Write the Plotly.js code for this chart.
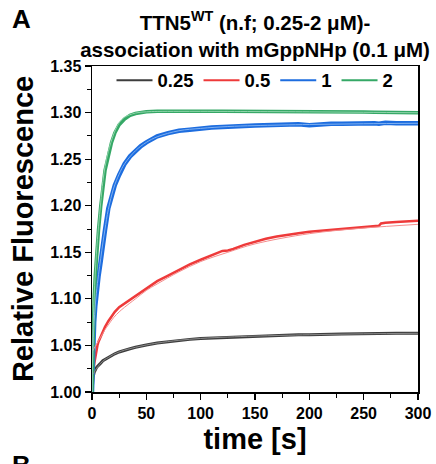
<!DOCTYPE html>
<html>
<head>
<meta charset="utf-8">
<script src="https://cdn.plot.ly/plotly-3.0.1.min.js"></script>
<style>html,body{margin:0;padding:0;background:#fff;}#chart{width:436px;height:464px;}</style>
</head>
<body>
<div id="chart"></div>
<script>
// time points (s) for measured traces
const time = [0, 0.5, 1, 2, 3, 4, 5, 6, 8, 10, 12, 15, 18, 21, 25, 30, 35, 40, 45, 50, 60, 70, 80, 90, 100, 110, 120, 125, 130, 140, 150, 160, 170, 180, 190, 200, 210, 220, 230, 240, 250, 260, 264, 266, 270, 280, 290, 300];

const c025 = [1.000, 1.010, 1.016, 1.021, 1.024, 1.026, 1.0275, 1.029, 1.031, 1.0335, 1.035, 1.037, 1.039, 1.041, 1.043, 1.045, 1.0465, 1.048, 1.0495, 1.0505, 1.0525, 1.054, 1.0555, 1.0565, 1.0575, 1.058, 1.0585, 1.059, 1.059, 1.0595, 1.060, 1.0605, 1.061, 1.061, 1.0615, 1.0615, 1.062, 1.062, 1.0622, 1.0625, 1.0625, 1.0627, 1.0627, 1.0628, 1.0628, 1.063, 1.063, 1.063];

const c05 = [1.000, 1.012, 1.020, 1.030, 1.038, 1.045, 1.050, 1.054, 1.060, 1.065, 1.070, 1.076, 1.081, 1.086, 1.091, 1.095, 1.099, 1.103, 1.107, 1.111, 1.119, 1.125, 1.131, 1.137, 1.142, 1.147, 1.1515, 1.152, 1.1535, 1.158, 1.1615, 1.1645, 1.167, 1.169, 1.1705, 1.172, 1.173, 1.1745, 1.1755, 1.1765, 1.1775, 1.1782, 1.1785, 1.181, 1.1818, 1.1825, 1.183, 1.1838];

const c1 = [1.000, 1.030, 1.056, 1.075, 1.092, 1.105, 1.115, 1.124, 1.140, 1.160, 1.174, 1.197, 1.212, 1.222, 1.233, 1.245, 1.253, 1.259, 1.264, 1.268, 1.2745, 1.278, 1.2805, 1.2815, 1.283, 1.284, 1.2845, 1.285, 1.285, 1.2855, 1.286, 1.2865, 1.287, 1.287, 1.2875, 1.2865, 1.2875, 1.288, 1.288, 1.2885, 1.2885, 1.2885, 1.288, 1.2885, 1.289, 1.2885, 1.289, 1.2885];

const c2 = [1.000, 1.030, 1.066, 1.100, 1.125, 1.145, 1.162, 1.174, 1.199, 1.222, 1.238, 1.253, 1.268, 1.278, 1.287, 1.293, 1.297, 1.299, 1.300, 1.3008, 1.3013, 1.3015, 1.3016, 1.3016, 1.3015, 1.3015, 1.3014, 1.3014, 1.3014, 1.3013, 1.3013, 1.3012, 1.3012, 1.3011, 1.301, 1.301, 1.3009, 1.3008, 1.3007, 1.3006, 1.3005, 1.3003, 1.3002, 1.3002, 1.3001, 1.3, 1.2998, 1.2997];

// fitted curves
const fitTime = [0, 1, 2, 4, 6, 8, 10, 12, 15, 20, 25, 30, 40, 50, 60, 80, 100, 125, 150, 200, 250, 300];
const fit025 = [1.018, 1.019, 1.021, 1.025, 1.028, 1.031, 1.033, 1.035, 1.037, 1.0405, 1.043, 1.045, 1.048, 1.0505, 1.0525, 1.0555, 1.0575, 1.059, 1.060, 1.0615, 1.0625, 1.063];
const fit05 = [1.043, 1.045, 1.047, 1.051, 1.055, 1.059, 1.063, 1.067, 1.072, 1.080, 1.086, 1.091, 1.100, 1.109, 1.116, 1.129, 1.140, 1.150, 1.159, 1.170, 1.176, 1.180];
const fit1 = [1.000, 1.052, 1.076, 1.106, 1.126, 1.143, 1.160, 1.175, 1.196, 1.219, 1.234, 1.245, 1.259, 1.268, 1.274, 1.2805, 1.283, 1.285, 1.286, 1.2872, 1.288, 1.2885];
const fit2 = [1.000, 1.068, 1.103, 1.148, 1.178, 1.203, 1.226, 1.242, 1.258, 1.277, 1.289, 1.295, 1.2995, 1.3008, 1.3012, 1.3013, 1.3013, 1.3012, 1.3011, 1.3008, 1.3003, 1.2998];

const names = ['0.25', '0.5', '1', '2'];
const colors = ['#3d3d3d', '#ee3a3a', '#1d6ddf', '#35a866'];
const fitColors = ['#8a8a8a', '#f58c8c', '#7fb0f0', '#8fd4aa'];
const dataSets = [c025, c05, c1, c2];
const fitSets = [fit025, fit05, fit1, fit2];
const widths = [3, 2.5, 4.5, 3.5];

const FONT = 'Liberation Sans, Arial, sans-serif';
const traces = [];
dataSets.forEach((d, i) => {
  traces.push({x: time, y: d, type: 'scatter', mode: 'lines', name: names[i], showlegend: false,
    line: {color: colors[i], width: widths[i]}});
});
fitSets.forEach((d, i) => {
  traces.push({x: fitTime, y: d, type: 'scatter', mode: 'lines', showlegend: false,
    line: {color: fitColors[i], width: 1, shape: 'spline'}});
});
// legend entries (thin line samples)
names.forEach((n, i) => {
  traces.push({x: [null], y: [null], type: 'scatter', mode: 'lines', name: n,
    line: {color: colors[i], width: 2}});
});

const layout = {
  width: 436, height: 464,
  margin: {l: 92, r: 18, t: 66, b: 72},
  paper_bgcolor: '#fff', plot_bgcolor: '#fff',
  font: {family: FONT, color: '#000'},
  title: {
    text: 'TTN5<sup>WT</sup> (n.f; 0.25-2 μM)-<br>association with mGppNHp (0.1 μM)',
    font: {family: FONT, size: 20.5, weight: 'bold', color: '#000'},
    x: 0.5, xref: 'paper', xanchor: 'center',
    y: 1 - 30 / 464, yref: 'container', yanchor: 'top'
  },
  showlegend: true,
  legend: {
    orientation: 'h', x: 0.5, xanchor: 'center', y: 0.955, yanchor: 'middle',
    bgcolor: 'rgba(0,0,0,0)', font: {family: FONT, size: 18.5, weight: 'bold'},
    itemwidth: 36, traceorder: 'normal'
  },
  xaxis: {
    range: [0, 300], tickvals: [0, 50, 100, 150, 200, 250, 300],
    ticks: 'outside', ticklen: 6, tickwidth: 1.2, tickcolor: '#000',
    minor: {dtick: 25, tick0: 0, ticks: 'outside', ticklen: 4, tickcolor: '#000', tickwidth: 1},
    showline: true, linecolor: '#000', linewidth: 1.5, mirror: true,
    showgrid: false, zeroline: false,
    tickfont: {family: FONT, size: 16, weight: 'bold', color: '#000'},
    title: {text: 'time [s]', font: {family: FONT, size: 29, weight: 'bold', color: '#000'}, standoff: 8}
  },
  yaxis: {
    range: [1.0, 1.35], tickvals: [1.00, 1.05, 1.10, 1.15, 1.20, 1.25, 1.30, 1.35],
    tickformat: '.2f',
    ticks: 'outside', ticklen: 6, tickwidth: 1.2, tickcolor: '#000',
    minor: {dtick: 0.025, tick0: 1.0, ticks: 'outside', ticklen: 4, tickcolor: '#000', tickwidth: 1},
    showline: true, linecolor: '#000', linewidth: 1.5, mirror: true,
    showgrid: false, zeroline: false,
    tickfont: {family: FONT, size: 16, weight: 'bold', color: '#000'},
    title: {text: 'Relative Fluorescence', font: {family: FONT, size: 29, weight: 'bold', color: '#000'}, standoff: 8}
  },
  annotations: [
    {text: 'A', xref: 'paper', yref: 'paper', x: (10 - 92) / 326, y: (392 - 2) / 326,
     xanchor: 'left', yanchor: 'top', showarrow: false,
     font: {family: FONT, size: 26, weight: 'bold', color: '#000'}},
    {text: 'B', xref: 'paper', yref: 'paper', x: (10 - 92) / 326, y: (392 - 448) / 326,
     xanchor: 'left', yanchor: 'top', showarrow: false,
     font: {family: FONT, size: 26, weight: 'bold', color: '#000'}}
  ]
};

Plotly.newPlot('chart', traces, layout, {displayModeBar: false, staticPlot: true});
</script>
</body>
</html>
